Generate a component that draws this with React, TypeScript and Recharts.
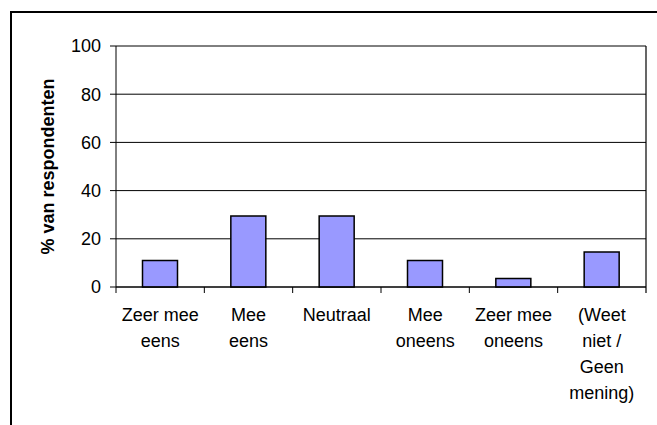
import React from 'react';
import {
  BarChart,
  Bar,
  XAxis,
  YAxis,
  CartesianGrid,
} from 'recharts';

// answer categories ("\n" = line break in the axis label)
const categories = [
  'Zeer mee\neens',
  'Mee\neens',
  'Neutraal',
  'Mee\noneens',
  'Zeer mee\noneens',
  '(Weet\nniet /\nGeen\nmening)',
];
const percentages = [11, 29.5, 29.5, 11, 3.5, 14.5];
const yTicks = [0, 20, 40, 60, 80, 100];
const yLabel = '% van respondenten';

const FONT = '"Liberation Sans", Arial, sans-serif';
const MARGIN = { top: 46, right: 11, bottom: 0, left: 0 };

const data = categories.map((name, i) => ({ name, value: percentages[i] }));

// label lines plus Excel-style tick marks on the category boundaries;
// the last category also closes the plot area on the right
const CategoryTick = (props: any) => {
  const { x, y, payload, width, plotTop } = props;
  const half = payload.offset || width / (2 * categories.length);
  const lines = String(payload.value).split('\n');
  const isLast = payload.value === categories[categories.length - 1];
  return (
    <g>
      <line x1={x - half} x2={x - half} y1={y} y2={y + 6} stroke="#000" />
      {isLast && (
        <line x1={x + half} x2={x + half} y1={plotTop} y2={y + 6} stroke="#000" strokeWidth={1.2} />
      )}
      <text x={x} y={y} textAnchor="middle" fontSize={18} fontFamily={FONT} fill="#000">
        {lines.map((line, i) => (
          <tspan key={i} x={x} dy={i === 0 ? 34 : 26}>
            {line}
          </tspan>
        ))}
      </text>
    </g>
  );
};

const YLabel = (props: any) => {
  const { viewBox } = props;
  const cx = viewBox.x + 54;
  const cy = viewBox.y + viewBox.height / 2;
  return (
    <text
      x={cx}
      y={cy}
      transform={`rotate(-90 ${cx} ${cy})`}
      textAnchor="middle"
      fontSize={18}
      fontWeight="bold"
      fontFamily={FONT}
      fill="#000"
    >
      {yLabel}
    </text>
  );
};

export default function App() {
  return (
    <div style={{ position: 'absolute', left: 0, top: 0, width: 657, height: 425, overflow: 'hidden', background: '#fff' }}>
      {/* outer chart frame, cut off at right and bottom */}
      <div
        style={{
          position: 'absolute',
          left: 10,
          top: 11,
          width: 700,
          height: 500,
          borderTop: '2px solid #000',
          borderLeft: '2px solid #000',
        }}
      />
      <div style={{ position: 'absolute', left: 0, top: 0 }}>
        <BarChart
          width={657}
          height={425}
          data={data}
          margin={MARGIN}
          barCategoryGap="30%"
        >
          <CartesianGrid vertical={false} stroke="#000" />
          <XAxis
            dataKey="name"
            interval={0}
            axisLine={{ stroke: '#000' }}
            tickLine={false}
            tickSize={0}
            tickMargin={0}
            tick={<CategoryTick plotTop={MARGIN.top} />}
            height={138}
          />
          <YAxis
            domain={[0, 100]}
            ticks={yTicks}
            width={116}
            tickSize={6}
            tickMargin={9}
            tick={{ fontSize: 18, fill: '#000', fontFamily: FONT }}
            tickLine={{ stroke: '#000' }}
            axisLine={{ stroke: '#000' }}
            label={<YLabel />}
          />
          <Bar
            dataKey="value"
            fill="#9999FF"
            stroke="#000"
            strokeWidth={1.5}
            isAnimationActive={false}
          />
        </BarChart>
      </div>
    </div>
  );
}
